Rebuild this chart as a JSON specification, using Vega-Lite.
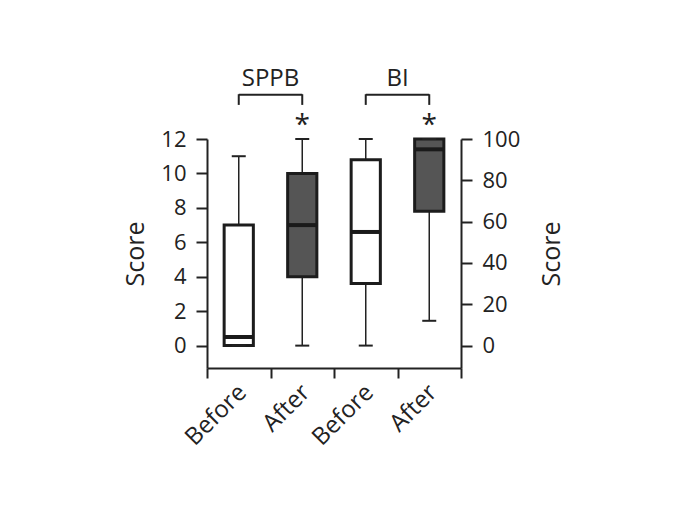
{
  "$schema": "https://vega.github.io/schema/vega-lite/v6.json",
  "width": 254,
  "height": 229,
  "autosize": {"type": "none"},
  "padding": {"left": 207, "top": 139, "right": 231, "bottom": 152},
  "background": "white",
  "config": {
    "view": {"stroke": null},
    "font": "Open Sans",
    "axis": {
      "domainColor": "#222", "domainWidth": 2, "tickColor": "#222", "tickWidth": 2,
      "tickSize": 11, "labelFont": "Open Sans", "labelFontSize": 22, "labelColor": "#222",
      "titleFont": "Open Sans", "titleFontSize": 25, "titleFontWeight": "normal", "titleColor": "#222",
      "grid": false, "labelPadding": 10
    }
  },
  "datasets": {
    "boxes": [
      {"g": "1", "set": "SPPB", "phase": "Before", "min": 0, "q1": 0, "med": 0.5, "q3": 7, "max": 11},
      {"g": "2", "set": "SPPB", "phase": "After", "min": 0, "q1": 4, "med": 7, "q3": 10, "max": 12},
      {"g": "3", "set": "BI", "phase": "Before", "min": 0, "q1": 30, "med": 55, "q3": 90, "max": 100},
      {"g": "4", "set": "BI", "phase": "After", "min": 12, "q1": 65, "med": 95, "q3": 100, "max": 100}
    ],
    "brackets": [
      {"a": "1", "b": "2", "y": 14.57, "label": "SPPB"},
      {"a": "3", "b": "4", "y": 14.57, "label": "BI"}
    ],
    "legs": [
      {"g": "1", "y": 13.98, "y2": 14.6},
      {"g": "2", "y": 13.98, "y2": 14.6},
      {"g": "3", "y": 13.98, "y2": 14.6},
      {"g": "4", "y": 13.98, "y2": 14.6}
    ],
    "stars": [
      {"g": "2", "y": 12.75, "t": "*"},
      {"g": "4", "y": 12.75, "t": "*"}
    ]
  },
  "resolve": {"scale": {"y": "independent"}},
  "layer": [
    {
      "data": {"name": "boxes"},
      "transform": [{"filter": "datum.set === 'SPPB'"}],
      "layer": [
        {
          "mark": {"type": "rule", "color": "#222", "strokeWidth": 1.5},
          "encoding": {
            "x": {"field": "g", "type": "ordinal", "scale": {"domain": ["1", "2", "3", "4"], "paddingInner": 0, "paddingOuter": 0}, "axis": {"title": null, "labelAngle": -45, "labelFontSize": 24, "tickBand": "extent", "tickSize": 10, "labelExpr": "datum.value == '1' || datum.value == '3' ? 'Before' : (datum.value == '2' || datum.value == '4' ? 'After' : '')", "labelPadding": 2, "labelOffset": -5}},
            "y": {"field": "min", "type": "quantitative", "title": "Score", "scale": {"domain": [-1.3, 12], "nice": false, "zero": false}, "axis": {"orient": "left", "values": [0, 2, 4, 6, 8, 10, 12], "titlePadding": 17, "titleBaseline": "alphabetic"}},
            "y2": {"field": "max"}
          }
        },
        {
          "mark": {"type": "bar", "stroke": "#1c1c1c", "strokeWidth": 3, "width": {"band": 0.46}},
          "encoding": {
            "x": {"field": "g", "type": "ordinal"},
            "y": {"field": "q1", "type": "quantitative", "title": "Score", "scale": {"domain": [-1.3, 12], "nice": false, "zero": false}, "axis": {"orient": "left", "values": [0, 2, 4, 6, 8, 10, 12], "titlePadding": 17, "titleBaseline": "alphabetic"}},
            "y2": {"field": "q3"},
            "fill": {"field": "phase", "type": "nominal", "scale": {"domain": ["Before", "After"], "range": ["#ffffff", "#555555"]}, "legend": null}
          }
        },
        {
          "mark": {"type": "tick", "color": "#1a1a1a", "thickness": 4, "size": 29, "opacity": 1},
          "encoding": {
            "x": {"field": "g", "type": "ordinal"},
            "y": {"field": "med", "type": "quantitative", "title": "Score", "scale": {"domain": [-1.3, 12], "nice": false, "zero": false}, "axis": {"orient": "left", "values": [0, 2, 4, 6, 8, 10, 12], "titlePadding": 17, "titleBaseline": "alphabetic"}}
          }
        },
        {
          "mark": {"type": "tick", "color": "#222", "thickness": 2, "size": 14, "opacity": 1},
          "encoding": {
            "x": {"field": "g", "type": "ordinal"},
            "y": {"field": "max", "type": "quantitative", "title": "Score", "scale": {"domain": [-1.3, 12], "nice": false, "zero": false}, "axis": {"orient": "left", "values": [0, 2, 4, 6, 8, 10, 12], "titlePadding": 17, "titleBaseline": "alphabetic"}}
          }
        },
        {
          "mark": {"type": "tick", "color": "#222", "thickness": 2, "size": 14, "opacity": 1},
          "encoding": {
            "x": {"field": "g", "type": "ordinal"},
            "y": {"field": "min", "type": "quantitative", "title": "Score", "scale": {"domain": [-1.3, 12], "nice": false, "zero": false}, "axis": {"orient": "left", "values": [0, 2, 4, 6, 8, 10, 12], "titlePadding": 17, "titleBaseline": "alphabetic"}}
          }
        },
        {
          "data": {"name": "brackets"},
          "mark": {"type": "rule", "color": "#222", "strokeWidth": 2},
          "encoding": {
            "x": {"field": "a", "type": "ordinal"},
            "x2": {"field": "b"},
            "y": {"field": "y", "type": "quantitative", "title": "Score", "scale": {"domain": [-1.3, 12], "nice": false, "zero": false}, "axis": {"orient": "left", "values": [0, 2, 4, 6, 8, 10, 12], "titlePadding": 17, "titleBaseline": "alphabetic"}}
          }
        },
        {
          "data": {"name": "legs"},
          "mark": {"type": "rule", "color": "#222", "strokeWidth": 2},
          "encoding": {
            "x": {"field": "g", "type": "ordinal"},
            "y": {"field": "y", "type": "quantitative", "title": "Score", "scale": {"domain": [-1.3, 12], "nice": false, "zero": false}, "axis": {"orient": "left", "values": [0, 2, 4, 6, 8, 10, 12], "titlePadding": 17, "titleBaseline": "alphabetic"}},
            "y2": {"field": "y2"}
          }
        },
        {
          "data": {"name": "brackets"},
          "mark": {"type": "text", "fontSize": 24, "color": "#222", "baseline": "alphabetic"},
          "encoding": {
            "x": {"field": "a", "type": "ordinal", "bandPosition": 1},
            "y": {"datum": 15.08, "type": "quantitative", "title": "Score", "scale": {"domain": [-1.3, 12], "nice": false, "zero": false}, "axis": {"orient": "left", "values": [0, 2, 4, 6, 8, 10, 12], "titlePadding": 17, "titleBaseline": "alphabetic"}},
            "text": {"field": "label"}
          }
        },
        {
          "data": {"name": "stars"},
          "mark": {"type": "text", "fontSize": 28, "color": "#222", "baseline": "middle"},
          "encoding": {
            "x": {"field": "g", "type": "ordinal"},
            "y": {"field": "y", "type": "quantitative", "title": "Score", "scale": {"domain": [-1.3, 12], "nice": false, "zero": false}, "axis": {"orient": "left", "values": [0, 2, 4, 6, 8, 10, 12], "titlePadding": 17, "titleBaseline": "alphabetic"}},
            "text": {"field": "t"}
          }
        }
      ]
    },
    {
      "data": {"name": "boxes"},
      "transform": [{"filter": "datum.set === 'BI'"}],
      "layer": [
        {
          "mark": {"type": "rule", "color": "#222", "strokeWidth": 1.5},
          "encoding": {
            "x": {"field": "g", "type": "ordinal"},
            "y": {"field": "min", "type": "quantitative", "title": "Score", "scale": {"domain": [-10.85, 100], "nice": false, "zero": false}, "axis": {"orient": "right", "values": [0, 20, 40, 60, 80, 100], "titleAngle": -90, "titlePadding": 40, "titleBaseline": "alphabetic"}},
            "y2": {"field": "max"}
          }
        },
        {
          "mark": {"type": "bar", "stroke": "#1c1c1c", "strokeWidth": 3, "width": {"band": 0.46}},
          "encoding": {
            "x": {"field": "g", "type": "ordinal"},
            "y": {"field": "q1", "type": "quantitative", "title": "Score", "scale": {"domain": [-10.85, 100], "nice": false, "zero": false}, "axis": {"orient": "right", "values": [0, 20, 40, 60, 80, 100], "titleAngle": -90, "titlePadding": 40, "titleBaseline": "alphabetic"}},
            "y2": {"field": "q3"},
            "fill": {"field": "phase", "type": "nominal", "scale": {"domain": ["Before", "After"], "range": ["#ffffff", "#555555"]}, "legend": null}
          }
        },
        {
          "mark": {"type": "tick", "color": "#1a1a1a", "thickness": 4, "size": 29, "opacity": 1},
          "encoding": {
            "x": {"field": "g", "type": "ordinal"},
            "y": {"field": "med", "type": "quantitative", "title": "Score", "scale": {"domain": [-10.85, 100], "nice": false, "zero": false}, "axis": {"orient": "right", "values": [0, 20, 40, 60, 80, 100], "titleAngle": -90, "titlePadding": 40, "titleBaseline": "alphabetic"}}
          }
        },
        {
          "mark": {"type": "tick", "color": "#222", "thickness": 2, "size": 14, "opacity": 1},
          "encoding": {
            "x": {"field": "g", "type": "ordinal"},
            "y": {"field": "max", "type": "quantitative", "title": "Score", "scale": {"domain": [-10.85, 100], "nice": false, "zero": false}, "axis": {"orient": "right", "values": [0, 20, 40, 60, 80, 100], "titleAngle": -90, "titlePadding": 40, "titleBaseline": "alphabetic"}}
          }
        },
        {
          "mark": {"type": "tick", "color": "#222", "thickness": 2, "size": 14, "opacity": 1},
          "encoding": {
            "x": {"field": "g", "type": "ordinal"},
            "y": {"field": "min", "type": "quantitative", "title": "Score", "scale": {"domain": [-10.85, 100], "nice": false, "zero": false}, "axis": {"orient": "right", "values": [0, 20, 40, 60, 80, 100], "titleAngle": -90, "titlePadding": 40, "titleBaseline": "alphabetic"}}
          }
        }
      ]
    }
  ]
}
